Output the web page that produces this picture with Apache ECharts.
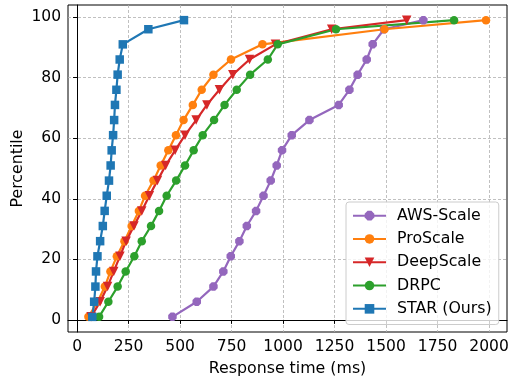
<!DOCTYPE html>
<html>
<head>
<meta charset="utf-8">
<script src="https://cdn.jsdelivr.net/npm/echarts@6/dist/echarts.min.js"></script>
<style>
  html, body { margin: 0; padding: 0; background: #fff; }
  #chart { width: 509px; height: 380px; }
</style>
</head>
<body>
<div id="chart"></div>
<script>
// percentiles on the y axis
const percentiles = [1, 6, 11, 16, 21, 26, 31, 36, 41, 46, 51, 56, 61, 66, 71, 76, 81, 86, 91, 96, 99];

// response time (ms) per percentile
const awsScale = [463, 581, 662, 710, 746, 788, 824, 869, 905, 940, 969, 995, 1042, 1128, 1270, 1322, 1362, 1406, 1435, 1490, 1681];
const proScale = [55, 100, 135, 162, 193, 230, 265, 300, 330, 371, 406, 443, 480, 517, 562, 605, 662, 747, 900, 1492, 1985];
const deepScale = [68, 112, 148, 178, 208, 238, 276, 314, 351, 390, 430, 476, 524, 578, 630, 691, 756, 837, 963, 1236, 1600];
const drpc = [107, 152, 197, 236, 278, 314, 359, 398, 435, 481, 524, 566, 610, 665, 716, 775, 840, 926, 974, 1257, 1830];
const star = [74, 83, 89, 92, 99, 112, 125, 134, 144, 155, 163, 168, 175, 180, 184, 191, 197, 207, 222, 346, 519];

const xTicks = [0, 250, 500, 750, 1000, 1250, 1500, 1750, 2000];
const yTicks = [0, 20, 40, 60, 80, 100];

const octagon = "path://M-0.41,-1L0.41,-1L1,-0.41L1,0.41L0.41,1L-0.41,1L-1,0.41L-1,-0.41Z";

const FONT = "DejaVu Sans";

function makeSeries(name, values, color, symbol, size, rotate) {
  return {
    name,
    type: "line",
    data: values.map((v, i) => [v, percentiles[i]]),
    symbol,
    symbolSize: size,
    symbolRotate: rotate || 0,
    lineStyle: { color, width: 2.2 },
    itemStyle: { color },
    emphasis: { disabled: true },
    animation: false,
  };
}

const chart = echarts.init(document.getElementById("chart"));

const axisCommon = {
  axisLine: { show: true, lineStyle: { color: "#000", width: 1 } },
  axisTick: { show: true, inside: false, length: 4, lineStyle: { color: "#000", width: 1 } },
  axisLabel: { color: "#000", fontFamily: FONT, fontSize: 15.5, formatter: (v) => String(v) },
  splitLine: { show: true, lineStyle: { color: "#b0b0b0", width: 0.8, type: [3, 2] } },
  nameTextStyle: { color: "#000", fontFamily: FONT, fontSize: 15.8 },
  nameMoveOverlap: false,
};

chart.setOption({
  animation: false,
  grid: {
    left: 68, right: 2, top: 5, bottom: 48,
    outerBoundsMode: "none",
    containLabel: false,
    show: true, borderColor: "#000", borderWidth: 1,
  },
  xAxis: {
    type: "value",
    min: -44, max: 2087,
    name: "Response time (ms)",
    nameLocation: "middle",
    nameGap: 29,
    ...axisCommon,
    axisTick: { ...axisCommon.axisTick, customValues: xTicks },
    axisLabel: { ...axisCommon.axisLabel, customValues: xTicks, margin: 7 },
  },
  yAxis: {
    type: "value",
    min: -4, max: 104,
    name: "Percentile",
    nameLocation: "middle",
    nameGap: 42,
    ...axisCommon,
    axisTick: { ...axisCommon.axisTick, customValues: yTicks },
    axisLabel: { ...axisCommon.axisLabel, customValues: yTicks, margin: 7 },
  },
  legend: {
    orient: "vertical",
    left: 346, top: 202,
    padding: [5, 7, 7, 6],
    itemWidth: 33,
    itemHeight: 12,
    itemGap: 6,
    backgroundColor: "rgba(255,255,255,0.8)",
    borderColor: "#cccccc",
    borderWidth: 1,
    borderRadius: 3,
    textStyle: { color: "#000", fontFamily: FONT, fontSize: 15.8, lineHeight: 17.3, padding: [0, 0, 0, 6] },
    data: ["AWS-Scale", "ProScale", "DeepScale", "DRPC", "STAR (Ours)"],
  },
  series: [
    makeSeries("AWS-Scale", awsScale, "#9467bd", octagon, 8.5),
    makeSeries("ProScale", proScale, "#ff7f0e", "circle", 8.5),
    makeSeries("DeepScale", deepScale, "#d62728", "triangle", 9.5, 180),
    makeSeries("DRPC", drpc, "#2ca02c", "circle", 8.5),
    makeSeries("STAR (Ours)", star, "#1f77b4", "rect", 8.5),
  ],
});
</script>
</body>
</html>
